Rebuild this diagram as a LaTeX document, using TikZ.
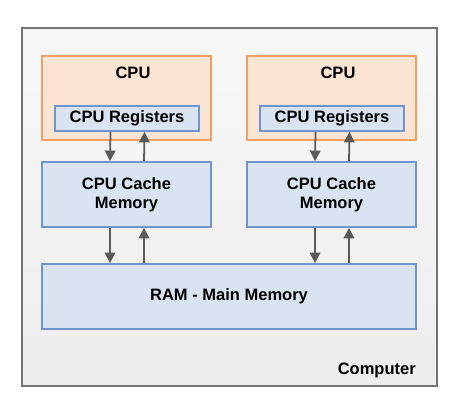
\documentclass[tikz,border=0pt]{standalone}
\usepackage{fontspec}
\setmainfont{Liberation Sans}
\usepackage{tikz}
\usetikzlibrary{shapes, arrows, arrows.meta}
\definecolor{framegray}{HTML}{737373}
\definecolor{cpufill}{HTML}{FCE4D4}
\definecolor{cpuline}{HTML}{F2A062}
\definecolor{memfill}{HTML}{D9E3F1}
\definecolor{memline}{HTML}{7294CC}
\definecolor{arrowgray}{HTML}{595959}
\tikzstyle{computer} = [rectangle, draw=framegray, line width=1.2pt, top color=white!97!black, bottom color=white!93!black, minimum width=8.3cm, minimum height=7.16cm]
\tikzstyle{cpu} = [rectangle, draw=cpuline, fill=cpufill, line width=1pt, minimum width=3.38cm, minimum height=1.68cm]
\tikzstyle{block} = [rectangle, draw=memline, fill=memfill, line width=1pt, align=center, inner sep=0pt]
\tikzstyle{arrow} = [draw=arrowgray, line width=1pt, -{Triangle[length=6pt, width=6pt]}]

\begin{document}
\begin{tikzpicture}[font=\fontsize{9.4}{11}\selectfont\bfseries]
	\useasboundingbox (0,0) rectangle (9.12,8.24);
	% frame
	\node [computer] (comp) at (4.59,4.10) {};
	\node [anchor=east] (complabel) at (8.44,0.84) {Computer};
	% cpus
	\node [cpu] (cpul) at (2.53,6.28) {};
	\node [cpu] (cpur) at (6.63,6.28) {};
	\node (cpultext) at (2.66,6.78) {CPU};
	\node (cpurtext) at (6.76,6.78) {CPU};
	% blocks
	\node [block, minimum width=2.88cm, minimum height=0.5cm] (regl) at (2.54,5.87) {CPU Registers};
	\node [block, minimum width=2.88cm, minimum height=0.5cm] (regr) at (6.64,5.87) {CPU Registers};
	\node [block, minimum width=3.38cm, minimum height=1.3cm] (cachel) at (2.53,4.35) {CPU Cache\\Memory};
	\node [block, minimum width=3.38cm, minimum height=1.3cm] (cacher) at (6.63,4.35) {CPU Cache\\Memory};
	\node [block, minimum width=7.48cm, minimum height=1.3cm] (ram) at (4.58,2.31) {RAM - Main Memory};

	% arrows
	\draw [arrow] ([xshift=-0.33cm]regl.south) -- ([xshift=-0.33cm]cachel.north);
	\draw [arrow] ([xshift=0.35cm]cachel.north) -- ([xshift=0.35cm]regl.south);
	\draw [arrow] ([xshift=-0.33cm]regr.south) -- ([xshift=-0.33cm]cacher.north);
	\draw [arrow] ([xshift=0.35cm]cacher.north) -- ([xshift=0.35cm]regr.south);
	\draw [arrow] ([xshift=-0.33cm]cachel.south) -- ([xshift=-0.33cm]cachel.south |- ram.north);
	\draw [arrow] ([xshift=0.35cm]cachel.south |- ram.north) -- ([xshift=0.35cm]cachel.south);
	\draw [arrow] ([xshift=-0.33cm]cacher.south) -- ([xshift=-0.33cm]cacher.south |- ram.north);
	\draw [arrow] ([xshift=0.35cm]cacher.south |- ram.north) -- ([xshift=0.35cm]cacher.south);
\end{tikzpicture}
\end{document}
